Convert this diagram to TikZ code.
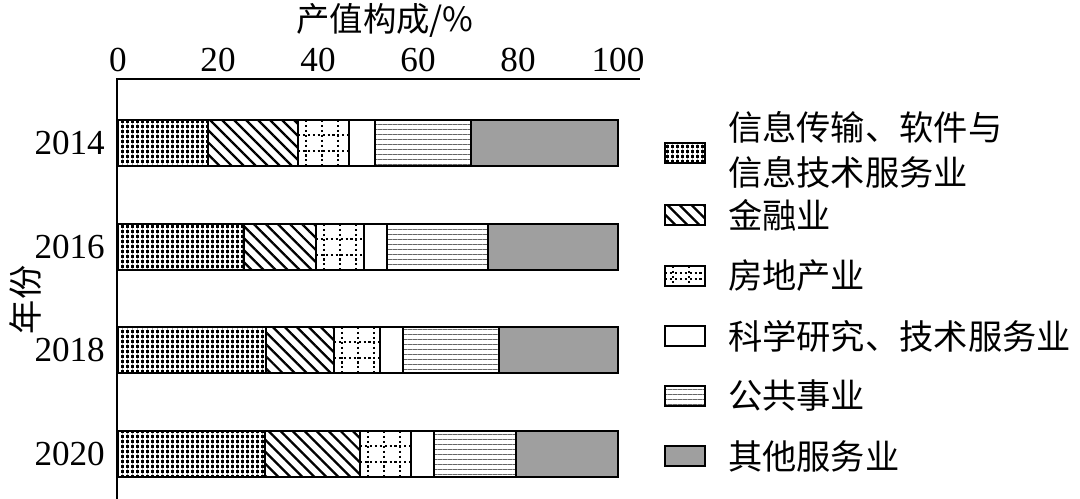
\documentclass[tikz,border=0pt]{standalone}
\usepackage{fontspec}
\setmainfont{Liberation Serif}
\newfontfamily\cjk{Noto Sans CJK SC}
\usetikzlibrary{patterns.meta}
% pattern fills of the six sectors
\newcommand\fillit[4]{\fill[black] (#1,#2) rectangle (#3,#4);
  \fill[pattern={Hatch[angle=0,distance=0.1cm,line width=0.9pt]}, pattern color=white] (#1,#2) rectangle (#3,#4);
  \draw[box] (#1,#2) rectangle (#3,#4);}
\newcommand\finance[4]{\fill[pattern={Lines[angle=-45,distance=0.17cm,line width=1.3pt]}] (#1,#2) rectangle (#3,#4);
  \draw[box] (#1,#2) rectangle (#3,#4);}
\newcommand\estate[4]{\begin{scope}
  \clip (#1,#2) rectangle (#3,#4);
  \draw[dotline] (#1,{#2+(#4-#2)/3}) -- (#3,{#2+(#4-#2)/3});
  \draw[dotline] (#1,{#2+2*(#4-#2)/3}) -- (#3,{#2+2*(#4-#2)/3});
  \foreach \xx in {8,24,...,200} \draw[dotline] ({#1+\xx},#2) -- ({#1+\xx},#4);
  \end{scope}
  \draw[box] (#1,#2) rectangle (#3,#4);}
\newcommand\science[4]{\draw[box] (#1,#2) rectangle (#3,#4);}
\newcommand\publicw[4]{\fill[pattern={Lines[angle=0,distance=0.1cm,line width=0.45pt]}, pattern color=black!60] (#1,#2) rectangle (#3,#4);
  \draw[box] (#1,#2) rectangle (#3,#4);}
\newcommand\otherw[4]{\fill[gray!75] (#1,#2) rectangle (#3,#4);
  \draw[box] (#1,#2) rectangle (#3,#4);}
\begin{document}
\begin{tikzpicture}[x=0.02cm,y=-0.02cm,
    box/.style={draw, line width=0.9pt},
    dotline/.style={line width=1pt, dash pattern=on 1.2pt off 1.6pt},
    tick/.style={font=\fontsize{20}{22}\selectfont},
    lab/.style={font=\cjk\fontsize{19.5}{26}\selectfont, anchor=west, align=left}]
    \useasboundingbox (0,0) rectangle (1080,499);

    % Axes
    \coordinate (o) at (117,79);
    \draw[line width=0.9pt] (117,499) -- (o) -- (640,79);
    \node[font=\cjk\fontsize{19}{21}\selectfont] (title) at (385,20) {产值构成/\%};
    \foreach \v in {0,20,...,100}
      \node[tick] (t\v) at ({118+5*\v},60) {\v};
    \node[font=\cjk\fontsize{19.5}{21}\selectfont, rotate=90] (ylab) at (25,300) {年份};

    % Bars: year / y top / breakpoints
    \foreach \yr/\yt/\a/\b/\c/\d/\e in {
        2014/120/208/298/349/375/471,
        2016/224/244/316/364/387/488,
        2018/327/266/334/380/403/499,
        2020/431/265/360/411/434/516}{
      \pgfmathsetmacro\yb{\yt+46}
      \fillit{118}{\yt}{\a}{\yb}
      \finance{\a}{\yt}{\b}{\yb}
      \estate{\b}{\yt}{\c}{\yb}
      \science{\c}{\yt}{\d}{\yb}
      \publicw{\d}{\yt}{\e}{\yb}
      \otherw{\e}{\yt}{618}{\yb}
      \node[tick, anchor=east] (y\yr) at (111,\yt+23) {\yr};
    }

    % Legend
    \fillit{665}{143}{705}{163}
    \node[lab] (l1) at (722,150) {信息传输、软件与\\信息技术服务业};
    \finance{665}{205}{705}{225}
    \node[lab] (l2) at (722,215) {金融业};
    \estate{665}{266}{705}{286}
    \node[lab] (l3) at (722,276) {房地产业};
    \science{665}{326}{705}{346}
    \node[lab] (l4) at (722,336) {科学研究、技术服务业};
    \publicw{665}{386}{705}{406}
    \node[lab] (l5) at (722,396) {公共事业};
    \otherw{665}{446}{705}{466}
    \node[lab] (l6) at (722,456) {其他服务业};
\end{tikzpicture}
\end{document}
